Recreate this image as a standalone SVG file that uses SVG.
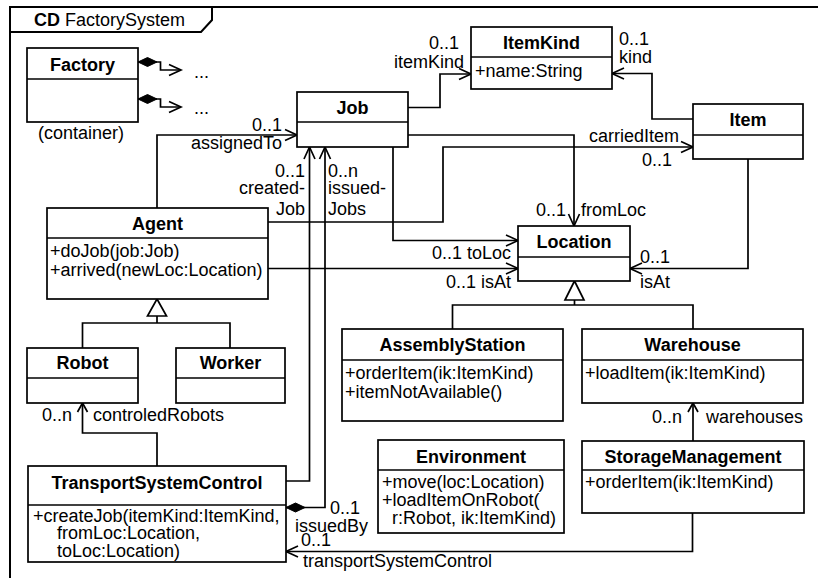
<svg xmlns="http://www.w3.org/2000/svg" width="818" height="578" viewBox="0 0 818 578">
<style>
text{font-family:"Liberation Sans",Arial,sans-serif;font-size:18px;fill:#000}
.t{font-weight:bold;text-anchor:middle}
.e{text-anchor:end}
.m{text-anchor:middle}
.box{fill:#fff;stroke:#000;stroke-width:1.7}
.ln{fill:none;stroke:#000;stroke-width:1.7}
.tri{fill:#fff;stroke:#000;stroke-width:1.7}
</style>
<defs>
<marker id="arr" markerUnits="userSpaceOnUse" markerWidth="16" markerHeight="16" viewBox="-14 -8 16 16" refX="0" refY="0" orient="auto" overflow="visible"><path d="M-12,-5.5 L0,0 L-12,5.5" fill="none" stroke="#000" stroke-width="1.7"/></marker>
<marker id="arrS" markerUnits="userSpaceOnUse" markerWidth="16" markerHeight="16" viewBox="-14 -8 16 16" refX="0" refY="0" orient="auto" overflow="visible"><path d="M-9,-5 L0,0 L-9,5" fill="none" stroke="#000" stroke-width="1.7"/></marker>
<marker id="dia" markerUnits="userSpaceOnUse" markerWidth="22" markerHeight="12" viewBox="-1 -6 22 12" refX="0" refY="0" orient="auto" overflow="visible"><path d="M0,0 L9.5,-4.5 L19,0 L9.5,4.5 Z" fill="#000" stroke="#000" stroke-width="1"/></marker>
</defs>
<rect x="0" y="0" width="818" height="578" fill="#fff"/>
<g id="frame">
<rect x="10" y="7" width="900" height="700" fill="none" stroke="#000" stroke-width="2"/>
<path d="M10,32 L201,32 L212,20 L212,7" fill="none" stroke="#000" stroke-width="2"/>
<text x="34" y="26"><tspan font-weight="bold">CD</tspan> FactorySystem</text>
</g>
<g id="connectors">
<path class="ln" d="M138,62 H160.5 V70 H181" marker-start="url(#dia)" marker-end="url(#arr)"/>
<path class="ln" d="M138,99 H160.5 V107 H181" marker-start="url(#dia)" marker-end="url(#arr)"/>
<text x="194" y="78">...</text>
<text x="194" y="114">...</text>
<path class="ln" d="M157,208 V135 H297" marker-end="url(#arr)"/>
<text class="e" x="282" y="131">0..1</text>
<text class="e" x="282" y="149">assignedTo</text>
<path class="ln" d="M408,107.5 H440 V74 H471" marker-end="url(#arr)"/>
<text class="e" x="459" y="49">0..1</text>
<text class="e" x="464" y="68">itemKind</text>
<path class="ln" d="M693,119 H652 V73.5 H612" marker-end="url(#arr)"/>
<text x="619" y="45">0..1</text>
<text x="619" y="63">kind</text>
<path class="ln" d="M408,135 H574 V226" marker-end="url(#arr)"/>
<text class="e" x="566" y="216">0..1</text>
<text x="581" y="216">fromLoc</text>
<path class="ln" d="M268,222 H443 V147 H693" marker-end="url(#arr)"/>
<text x="589" y="142">carriedItem</text>
<text x="642" y="165.5">0..1</text>
<path class="ln" d="M393,147 V240.5 H518" marker-end="url(#arr)"/>
<text class="e" x="511" y="259">0..1 toLoc</text>
<path class="ln" d="M268,268.5 H518" marker-end="url(#arr)"/>
<text class="e" x="511" y="288">0..1 isAt</text>
<path class="ln" d="M748,159 V268.5 H630" marker-end="url(#arr)"/>
<text x="640" y="263">0..1</text>
<text x="640" y="288">isAt</text>
<path class="tri" d="M574.5,281 L584,300 L565,300 Z"/>
<path class="ln" d="M574.5,300 V305 M452.5,329 V305 H693 V329"/>
<path class="tri" d="M157,299 L166.5,316 L147.5,316 Z"/>
<path class="ln" d="M157,316 V323 M82.5,348 V323 H230 V348"/>
<path class="ln" d="M157,466 V433 H82.5 V403" marker-end="url(#arrS)"/>
<text class="e" x="72" y="421">0..n</text>
<text x="93" y="421">controledRobots</text>
<path class="ln" d="M286,481 H309.5 V147" marker-end="url(#arr)"/>
<text class="e" x="305" y="176.5">0..1</text>
<text class="e" x="305" y="194">created-</text>
<text class="e" x="305" y="214.5">Job</text>
<path class="ln" d="M286,507.5 H325 V147" marker-start="url(#dia)" marker-end="url(#arr)"/>
<text x="328" y="176.5">0..n</text>
<text x="328" y="194">issued-</text>
<text x="328" y="214.5">Jobs</text>
<text x="330" y="514">0..1</text>
<text x="295" y="531.5">issuedBy</text>
<path class="ln" d="M692.5,513 V551.5 H286" marker-end="url(#arr)"/>
<text x="301" y="546">0..1</text>
<text x="303" y="567">transportSystemControl</text>
<path class="ln" d="M693,441 V403" marker-end="url(#arrS)"/>
<text class="e" x="682" y="423">0..n</text>
<text x="706" y="423">warehouses</text>
</g>
<g id="Factory">
<rect class="box" x="27" y="48" width="111" height="74"/>
<line class="ln" x1="27" y1="79" x2="138" y2="79"/>
<text class="t" x="82.5" y="71">Factory</text>
<text class="m" x="81" y="138.5">(container)</text>
</g>
<g id="Job">
<rect class="box" x="297" y="92" width="111" height="55"/>
<line class="ln" x1="297" y1="122" x2="408" y2="122"/>
<text class="t" x="352.5" y="113.5">Job</text>
</g>
<g id="ItemKind">
<rect class="box" x="471" y="27" width="141" height="62"/>
<line class="ln" x1="471" y1="57" x2="612" y2="57"/>
<text class="t" x="541.5" y="48.5">ItemKind</text>
<text x="475" y="76.5">+name:String</text>
</g>
<g id="Item">
<rect class="box" x="693" y="104" width="110" height="55"/>
<line class="ln" x1="693" y1="135" x2="803" y2="135"/>
<text class="t" x="748" y="126">Item</text>
</g>
<g id="Agent">
<rect class="box" x="47" y="208" width="221" height="91"/>
<line class="ln" x1="47" y1="238" x2="268" y2="238"/>
<text class="t" x="157.5" y="229.5">Agent</text>
<text x="50" y="257">+doJob(job:Job)</text>
<text x="50" y="275.5">+arrived(newLoc:Location)</text>
</g>
<g id="Location">
<rect class="box" x="518" y="226" width="112" height="55"/>
<line class="ln" x1="518" y1="257" x2="630" y2="257"/>
<text class="t" x="574" y="248">Location</text>
</g>
<g id="Robot">
<rect class="box" x="27" y="348" width="111" height="55"/>
<line class="ln" x1="27" y1="378" x2="138" y2="378"/>
<text class="t" x="82.5" y="369">Robot</text>
</g>
<g id="Worker">
<rect class="box" x="176" y="348" width="109" height="55"/>
<line class="ln" x1="176" y1="378" x2="285" y2="378"/>
<text class="t" x="230.5" y="369">Worker</text>
</g>
<g id="AssemblyStation">
<rect class="box" x="342" y="329" width="221" height="92"/>
<line class="ln" x1="342" y1="360" x2="563" y2="360"/>
<text class="t" x="452.5" y="351">AssemblyStation</text>
<text x="345" y="379">+orderItem(ik:ItemKind)</text>
<text x="345" y="398">+itemNotAvailable()</text>
</g>
<g id="Warehouse">
<rect class="box" x="582" y="329" width="221" height="74"/>
<line class="ln" x1="582" y1="360" x2="803" y2="360"/>
<text class="t" x="692.5" y="351">Warehouse</text>
<text x="585" y="379">+loadItem(ik:ItemKind)</text>
</g>
<g id="Environment">
<rect class="box" x="378" y="440" width="186" height="93"/>
<line class="ln" x1="378" y1="470" x2="564" y2="470"/>
<text class="t" x="471" y="462.5">Environment</text>
<text x="382" y="488">+move(loc:Location)</text>
<text x="382" y="506">+loadItemOnRobot(</text>
<text x="392" y="523.5">r:Robot, ik:ItemKind)</text>
</g>
<g id="StorageManagement">
<rect class="box" x="582" y="441" width="222" height="72"/>
<line class="ln" x1="582" y1="470" x2="804" y2="470"/>
<text class="t" x="693" y="462.5">StorageManagement</text>
<text x="585" y="488">+orderItem(ik:ItemKind)</text>
</g>
<g id="TransportSystemControl">
<rect class="box" x="28" y="466" width="258" height="96"/>
<line class="ln" x1="28" y1="505" x2="286" y2="505"/>
<text class="t" x="157" y="489">TransportSystemControl</text>
<text x="33" y="521.5">+createJob(itemKind:ItemKind,</text>
<text x="57" y="539">fromLoc:Location,</text>
<text x="57" y="556.5">toLoc:Location)</text>
</g>
</svg>
